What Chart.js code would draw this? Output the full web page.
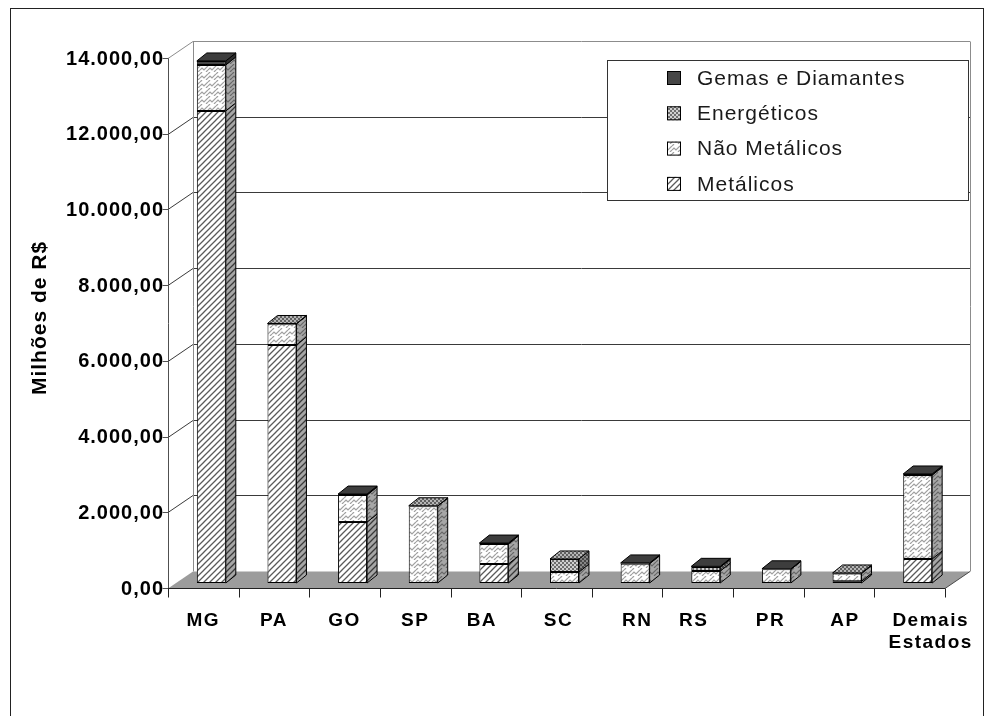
<!DOCTYPE html>
<html>
<head>
<meta charset="utf-8">
<script src="https://cdn.jsdelivr.net/npm/chart.js@4.4.1/dist/chart.umd.min.js"></script>
<style>
html,body{margin:0;padding:0;background:#fff;}
#wrap{width:993px;height:716px;}
</style>
</head>
<body>
<div id="wrap"><canvas id="valorChart" width="993" height="716"></canvas></div>
<script>
// ==========================================
// VALOR DA PRODUCAO MINERAL POR ESTADO
// ==========================================

// Categories
const estados=["MG","PA","GO","SP","BA","SC","RN","RS","PR","AP",["Demais","Estados"]];

// Values (Milhões de R$)
const metalicos=[12470,6290,1610,0,500,0,0,0,0,45,635];
const naoMetalicos=[1215,555,715,2030,530,290,510,315,360,205,2215];
const energeticos=[0,10,0,10,0,345,0,105,0,15,0];
const gemas=[105,0,25,0,25,0,20,20,15,0,30];

// Axis
const yMax=14000;
const yStep=2000;

// 3D offsets relative to the bar plane
const FRONT={dx:-8,dy:5};
const BACK={dx:17,dy:-12};
const DEPTH={dx:10,dy:-8};

// small horizontal nudges for the category labels (px)
const labelNudge=[0,0,0,0,-4,2,10,-4,2,6,21];

const FONT="'Liberation Sans', Arial, sans-serif";

// ------------------------------------------
// fill patterns
// ------------------------------------------
function makePattern(kind){
  const c=document.createElement("canvas");
  const ctx=c.getContext("2d");
  if(kind==="met"){
    c.width=c.height=6;
    ctx.fillStyle="#fff";ctx.fillRect(0,0,6,6);
    ctx.strokeStyle="#5a5a5a";ctx.lineWidth=1.3;
    ctx.beginPath();
    ctx.moveTo(0,6);ctx.lineTo(6,0);
    ctx.moveTo(-1,1);ctx.lineTo(1,-1);
    ctx.moveTo(5,7);ctx.lineTo(7,5);
    ctx.stroke();
    ctx.fillStyle="#fff";ctx.fillRect(0,2,1,1);ctx.fillRect(3,5,1,1);
  }else if(kind==="nmet"){
    c.width=c.height=8;
    ctx.fillStyle="#fff";ctx.fillRect(0,0,8,8);
    ctx.strokeStyle="#a0a0a0";ctx.lineWidth=1.2;
    ctx.beginPath();
    ctx.moveTo(0,6);ctx.lineTo(2,4);ctx.lineTo(4,6);ctx.lineTo(8,2);
    ctx.moveTo(0,2);ctx.lineTo(2,0);
    ctx.moveTo(6,8);ctx.lineTo(8,6);
    ctx.stroke();
  }else if(kind==="ener"){
    c.width=c.height=4;
    ctx.fillStyle="#d0d0d0";ctx.fillRect(0,0,4,4);
    ctx.fillStyle="#6e6e6e";
    ctx.fillRect(0,0,2,2);ctx.fillRect(2,2,2,2);
  }else{
    c.width=c.height=2;
    ctx.fillStyle="#464646";ctx.fillRect(0,0,2,2);
  }
  return ctx.createPattern(c,"repeat");
}

const brl=v=>v.toLocaleString("pt-BR",{minimumFractionDigits:2,maximumFractionDigits:2});

function line(ctx,x1,y1,x2,y2){
  ctx.beginPath();ctx.moveTo(x1,y1);ctx.lineTo(x2,y2);ctx.stroke();
}

function poly(ctx,pts,fill,shade){
  ctx.beginPath();
  pts.forEach((p,k)=>k?ctx.lineTo(p[0],p[1]):ctx.moveTo(p[0],p[1]));
  ctx.closePath();
  ctx.fillStyle=fill;ctx.fill();
  if(shade){ctx.fillStyle=shade;ctx.fill();}
  ctx.strokeStyle="#000";ctx.lineWidth=1;ctx.stroke();
}

// ------------------------------------------
// walls, floor, 3D faces, labels, legend
// ------------------------------------------
const box3d={
  id:"box3d",
  beforeDraw(chart){
    const ctx=chart.ctx;
    ctx.save();
    ctx.fillStyle="#fff";ctx.fillRect(0,0,chart.width,chart.height);
    ctx.strokeStyle="#222";ctx.lineWidth=1;
    ctx.strokeRect(10.5,8.5,973,720);
    ctx.restore();
    ctx.letterSpacing="1px";
  },
  beforeDatasetsDraw(chart){
    const {ctx,chartArea:a,scales:{y}}=chart;
    const fl=a.left+FRONT.dx,fr=a.right+FRONT.dx;
    const bl=a.left+BACK.dx,br=a.right+BACK.dx;
    const fy=v=>Math.round(y.getPixelForValue(v)+FRONT.dy)+.5;
    const by=v=>Math.round(y.getPixelForValue(v)+BACK.dy)+.5;
    ctx.save();
    ctx.lineWidth=1;
    // gridlines on back and side wall
    ctx.strokeStyle="#3a3a3a";
    for(let v=yStep;v<yMax;v+=yStep){
      line(ctx,bl,by(v),br,by(v));
      line(ctx,fl,fy(v),bl,by(v));
    }
    // wall outline
    ctx.strokeStyle="#8c8c8c";
    line(ctx,bl,by(yMax),br,by(yMax));
    line(ctx,Math.round(bl)+.5,by(yMax),Math.round(bl)+.5,by(0));
    line(ctx,Math.round(br)+.5,by(yMax),Math.round(br)+.5,by(0));
    line(ctx,fl,fy(yMax),bl,by(yMax));
    // floor
    ctx.beginPath();
    ctx.moveTo(fl,fy(0));ctx.lineTo(fr,fy(0));ctx.lineTo(br,by(0));ctx.lineTo(bl,by(0));
    ctx.closePath();
    ctx.fillStyle="#9c9c9c";ctx.fill();
    ctx.strokeStyle="#4a4a4a";
    line(ctx,fr,fy(0),br,by(0));
    // front value axis
    ctx.strokeStyle="#505050";
    const ax=Math.round(fl)+.5;
    line(ctx,ax,fy(yMax),ax,fy(0));
    for(let v=0;v<=yMax;v+=yStep) line(ctx,ax-6,fy(v),ax,fy(v));
    // category axis
    ctx.strokeStyle="#222";
    line(ctx,fl,fy(0),fr,fy(0));
    const n=chart.data.labels.length;
    for(let i=0;i<=n;i++){
      const px=Math.round(a.left+(a.right-a.left)*i/n+FRONT.dx)+.5;
      line(ctx,px,fy(0),px,fy(0)+9);
    }
    ctx.restore();
  },
  afterDatasetsDraw(chart){
    const ctx=chart.ctx;
    const n=chart.data.labels.length;
    ctx.save();
    for(let i=0;i<n;i++){
      let top=null;
      chart.data.datasets.forEach((ds,d)=>{
        if(!ds.data[i]) return;
        const el=chart.getDatasetMeta(d).data[i];
        const {x,y,base,width}=el.getProps(["x","y","base","width"],true);
        const r=x+width/2;
        poly(ctx,[[r,y],[r+DEPTH.dx,y+DEPTH.dy],[r+DEPTH.dx,base+DEPTH.dy],[r,base]],ds.backgroundColor,"rgba(0,0,0,0.35)");
        top={x,y,width,fill:ds.backgroundColor};
      });
      if(top){
        const l=top.x-top.width/2,r=top.x+top.width/2;
        poly(ctx,[[l,top.y],[l+DEPTH.dx,top.y+DEPTH.dy],[r+DEPTH.dx,top.y+DEPTH.dy],[r,top.y]],top.fill,"rgba(0,0,0,0.12)");
      }
    }
    ctx.restore();
  },
  afterDraw(chart){
    const {ctx,chartArea:a,scales:{x}}=chart;
    ctx.save();
    // category labels
    ctx.font="bold 19px "+FONT;
    ctx.fillStyle="#000";
    ctx.textAlign="center";
    ctx.textBaseline="middle";
    ctx.letterSpacing="1.5px";
    chart.data.labels.forEach((lab,i)=>{
      const px=x.getPixelForValue(i)+FRONT.dx+labelNudge[i];
      [].concat(lab).forEach((t,k)=>ctx.fillText(t,px,a.bottom+38+k*22));
    });
    // legend
    const bx=607.5,bw=361,byy=60.5,bh=140;
    ctx.fillStyle="#fff";ctx.fillRect(bx,byy,bw,bh);
    ctx.strokeStyle="#333";ctx.lineWidth=1;ctx.strokeRect(bx,byy,bw,bh);
    const items=chart.data.datasets.slice().reverse();
    ctx.font="21px "+FONT;
    ctx.textAlign="left";
    ctx.letterSpacing="1px";
    items.forEach((ds,k)=>{
      const cy=78+k*35.3;
      ctx.fillStyle=ds.backgroundColor;
      ctx.fillRect(667,cy-7,14,14);
      ctx.strokeStyle="#000";ctx.strokeRect(667.5,cy-6.5,13,13);
      ctx.fillStyle="#1a1a1a";
      ctx.fillText(ds.label,697,cy+1);
    });
    ctx.restore();
  }
};

new Chart(
  document.getElementById("valorChart"),
  {
    type:"bar",
    data:{
      labels:estados,
      datasets:[
        {label:"Metálicos",data:metalicos,backgroundColor:makePattern("met")},
        {label:"Não Metálicos",data:naoMetalicos,backgroundColor:makePattern("nmet")},
        {label:"Energéticos",data:energeticos,backgroundColor:makePattern("ener")},
        {label:"Gemas e Diamantes",data:gemas,backgroundColor:makePattern("gem")}
      ]
    },
    options:{
      responsive:false,
      animation:false,
      devicePixelRatio:1,
      layout:{padding:{left:0,top:53,right:40,bottom:0}},
      datasets:{
        bar:{
          barPercentage:0.41,
          categoryPercentage:1,
          borderColor:"#000",
          borderWidth:1,
          borderSkipped:false
        }
      },
      plugins:{
        legend:{display:false},
        tooltip:{enabled:false}
      },
      scales:{
        x:{
          stacked:true,
          grid:{display:false,drawTicks:false},
          border:{display:false},
          ticks:{display:false},
          afterFit(s){s.height=133;}
        },
        y:{
          stacked:true,
          min:0,max:yMax,
          grid:{display:false,drawTicks:false},
          border:{display:false},
          ticks:{
            stepSize:yStep,padding:12,labelOffset:6,color:"#000",
            font:{family:FONT,size:20,weight:"bold"},
            callback:v=>brl(v)
          },
          title:{
            display:true,text:"Milhões de R$",color:"#000",
            padding:{top:28},
            font:{family:FONT,size:21,weight:"bold"}
          },
          afterFit(s){s.width=176;}
        }
      }
    },
    plugins:[box3d]
  }
);
</script>
</body>
</html>
